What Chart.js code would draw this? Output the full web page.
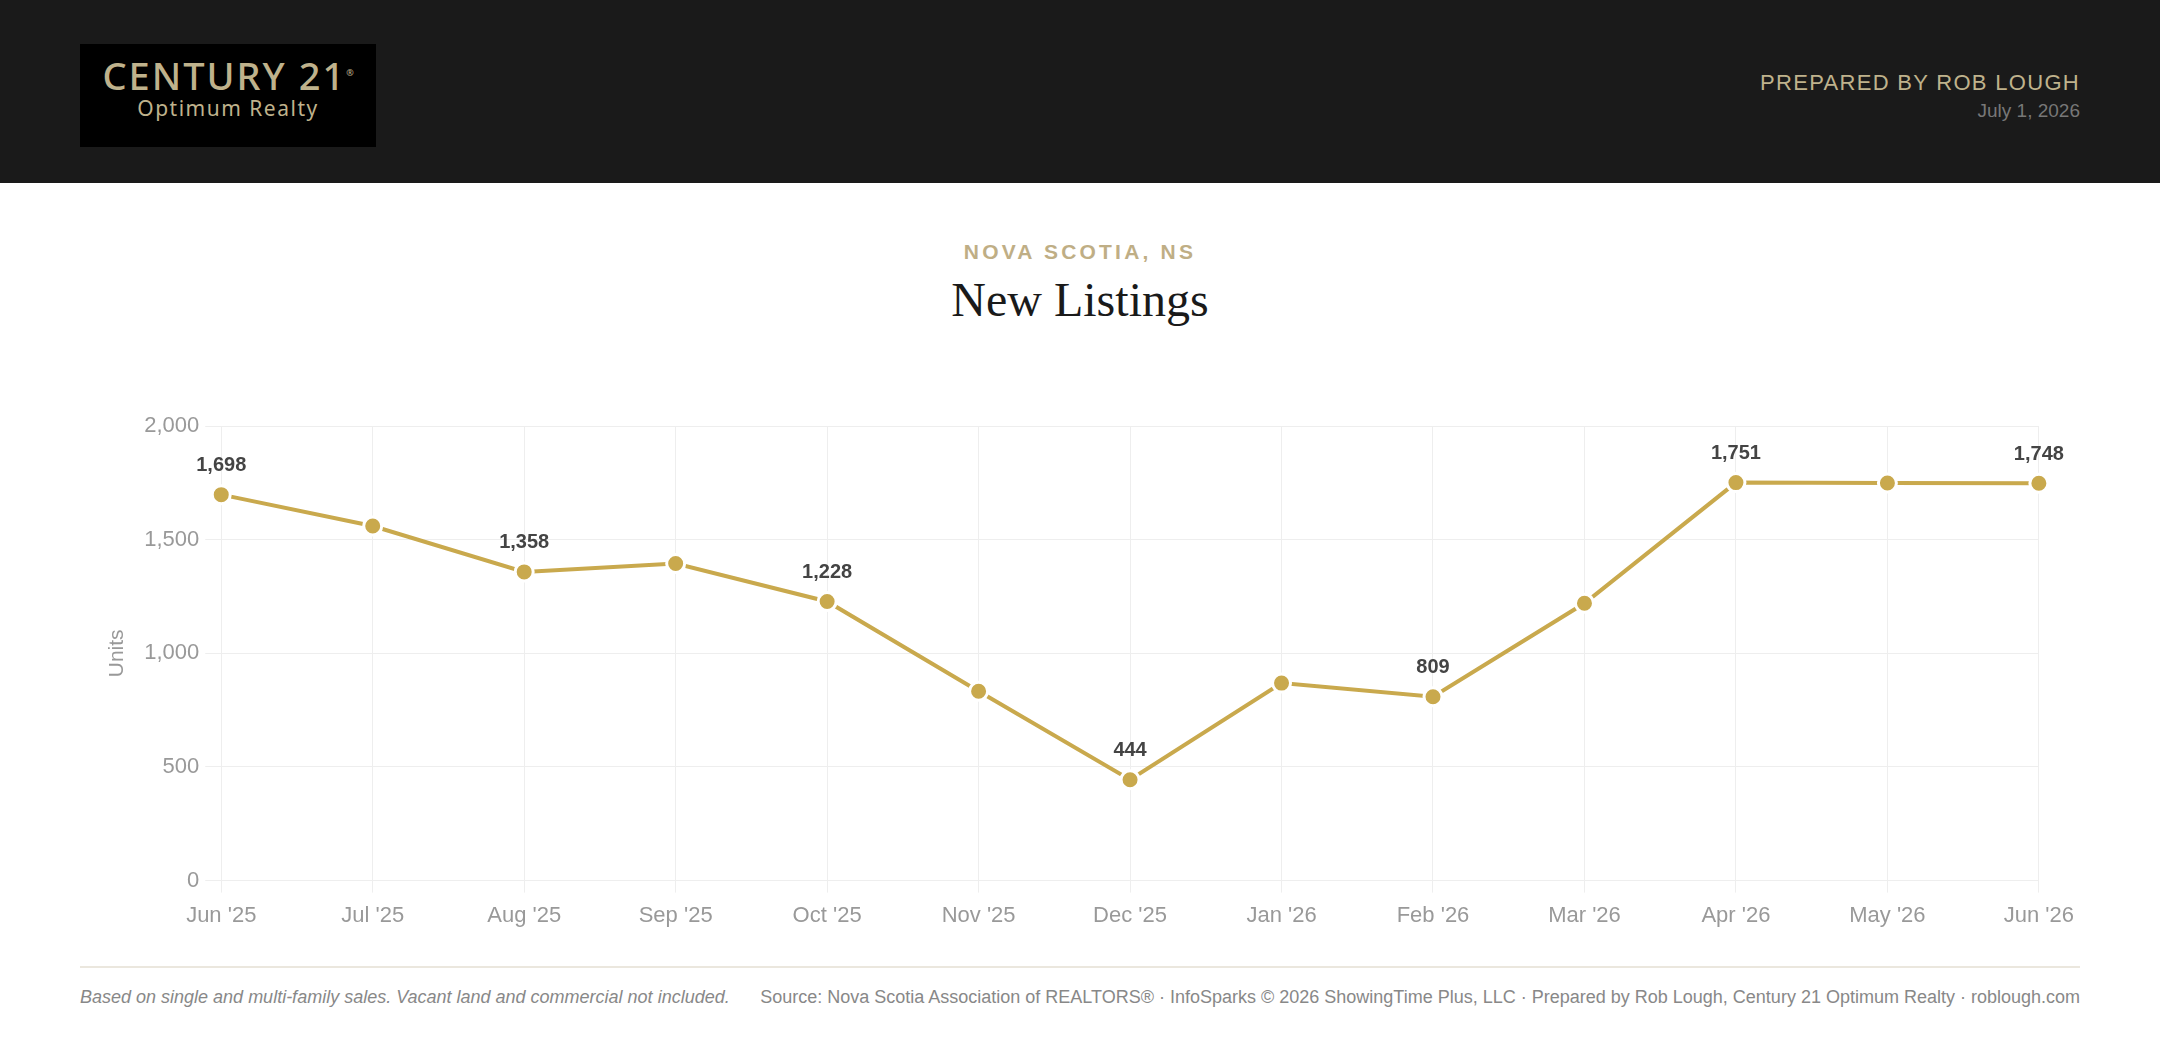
<!DOCTYPE html>
<html>
<head>
<meta charset="utf-8">
<script src="https://cdn.jsdelivr.net/npm/chart.js@4.4.1/dist/chart.umd.min.js"></script>
<style>
    html, body { margin: 0; padding: 0; background: #fff; width: 2160px; height: 1048px; overflow: hidden; font-family: "Liberation Sans", Arial, sans-serif; }
    .header { position: absolute; left: 0; top: 0; width: 2160px; height: 183px; background: #1a1a1a; }
    .logo { position: absolute; left: 80px; top: 44px; width: 296px; height: 103px; background: #000; color: #bfb28c; text-align: center; }
    .logo .brand { position: absolute; left: 0; right: 0; top: 5px; font-family: "Noto Sans", sans-serif; font-weight: 500; font-size: 38px; letter-spacing: 2px; }
    .logo .brand sup { font-size: 9px; letter-spacing: 0; }
    .logo .office { position: absolute; left: 0; right: 0; top: 50px; font-family: "Noto Sans", sans-serif; font-size: 21px; font-weight: 400; letter-spacing: 1.5px; }
    .prep { position: absolute; right: 80px; top: 70px; color: #bfb28c; font-size: 22px; letter-spacing: 1.3px; }
    .date { position: absolute; right: 80px; top: 100px; color: #777; font-size: 19px; }
    .sub { position: absolute; left: 0; width: 2160px; top: 240px; text-align: center; color: #bfae85; font-weight: bold; font-size: 21px; letter-spacing: 3.2px; }
    .title { position: absolute; left: 0; width: 2160px; top: 272px; text-align: center; color: #1a1a1a; font-family: "Liberation Serif", "DejaVu Serif", serif; font-size: 48px; }
    .chartbox { position: absolute; left: 80px; top: 395px; width: 2004px; height: 544px; }
    .rule { position: absolute; left: 80px; top: 966px; width: 2000px; height: 2px; background: #ebe7de; }
    .note { position: absolute; left: 80px; top: 987px; color: #888; font-size: 18px; font-style: italic; }
    .src { position: absolute; right: 80px; top: 987px; color: #888; font-size: 18px; }
</style>
</head>
<body>
<div class="header">
    <div class="logo">
        <div class="brand">CENTURY 21<sup>®</sup></div>
        <div class="office">Optimum Realty</div>
    </div>
    <div class="prep">PREPARED BY ROB LOUGH</div>
    <div class="date">July 1, 2026</div>
</div>
<div class="sub">NOVA SCOTIA, NS</div>
<div class="title">New Listings</div>
<div class="chartbox"><canvas id="listingsChart"></canvas></div>
<div class="rule"></div>
<div class="note">Based on single and multi-family sales. Vacant land and commercial not included.</div>
<div class="src">Source: Nova Scotia Association of REALTORS® · InfoSparks © 2026 ShowingTime Plus, LLC · Prepared by Rob Lough, Century 21 Optimum Realty · roblough.com</div>

<script>
// monthly new listings, Jun '25 - Jun '26
const months = ["Jun '25", "Jul '25", "Aug '25", "Sep '25", "Oct '25", "Nov '25", "Dec '25",
    "Jan '26", "Feb '26", "Mar '26", "Apr '26", "May '26", "Jun '26"];
const newListings = [1698, 1560, 1358, 1395, 1228, 833, 444, 869, 809, 1220, 1751, 1749, 1748];
// only every other point gets a value label
const labelledPoints = [0, 2, 4, 6, 8, 10, 12];
const yTicks = [0, 500, 1000, 1500, 2000];

const gold = '#c9a94d';

const pointLabels = {
    id: 'pointLabels',
    afterDatasetsDraw(chart) {
        const ctx = chart.ctx;
        const meta = chart.getDatasetMeta(0);
        ctx.save();
        ctx.font = 'bold 20px "Liberation Sans", Arial, sans-serif';
        ctx.fillStyle = '#444';
        ctx.textAlign = 'center';
        ctx.textBaseline = 'bottom';
        labelledPoints.forEach(i => {
            const pt = meta.data[i];
            ctx.fillText(newListings[i].toLocaleString('en-US'), pt.x, pt.y - 19);
        });
        ctx.restore();
    }
};

new Chart(document.getElementById('listingsChart').getContext('2d'), {
    type: 'line',
    data: {
        labels: months,
        datasets: [{
            data: newListings,
            borderColor: gold,
            borderWidth: 4,
            backgroundColor: gold,
            pointBackgroundColor: gold,
            pointBorderColor: '#fff',
            pointBorderWidth: 3,
            pointRadius: 9,
            tension: 0,
            fill: false
        }]
    },
    options: {
        responsive: true,
        maintainAspectRatio: false,
        animation: false,
        layout: { padding: { top: 31, right: 1, left: 25, bottom: 0 } },
        plugins: { legend: { display: false }, tooltip: { enabled: false } },
        scales: {
            x: {
                grid: { color: '#eeeeee', tickLength: 12 },
                border: { display: false },
                ticks: { color: '#999', font: { size: 22, family: '"Liberation Sans", Arial' }, padding: 10, maxRotation: 0 }
            },
            y: {
                min: yTicks[0],
                max: yTicks[yTicks.length - 1],
                afterBuildTicks: axis => { axis.ticks = yTicks.map(v => ({ value: v })); },
                grid: { color: '#eeeeee', tickLength: 16 },
                border: { display: false },
                title: { display: true, text: 'Units', color: '#999', font: { size: 21, family: '"Liberation Sans", Arial' }, padding: { top: 0, bottom: 8 } },
                ticks: {
                    color: '#999',
                    font: { size: 22, family: '"Liberation Sans", Arial' },
                    padding: 6,
                    callback: v => v.toLocaleString('en-US')
                }
            }
        }
    },
    plugins: [pointLabels]
});
</script>
</body>
</html>
